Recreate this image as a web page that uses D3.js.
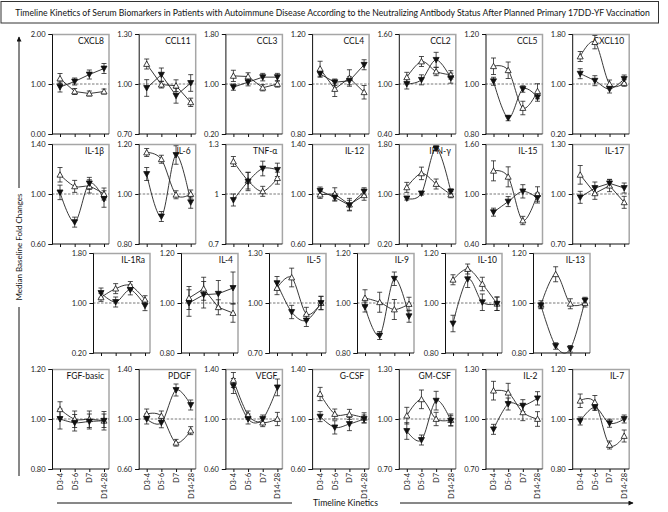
<!DOCTYPE html>
<html><head><meta charset="utf-8">
<script src="https://cdn.jsdelivr.net/npm/d3@7"></script>
<style>body{margin:0;background:#fff} svg{display:block}</style>
</head><body><svg id="c" width="668" height="512"></svg>
<script>
// ---------- DATA ----------
const titleText = "Timeline Kinetics of Serum Biomarkers in Patients with Autoimmune Disease According to the Neutralizing Antibody Status After Planned Primary 17DD-YF Vaccination";
const yAxisTitle = "Median Baseline Fold Changes";
const xAxisTitle = "Timeline Kinetics";
const timepoints = ["D3-4", "D5-6", "D7", "D14-28"];
const biomarkers = ["CXCL8","CCL11","CCL3","CCL4","CCL2","CCL5","CXCL10",
  "IL-1β","IL-6","TNF-α","IL-12","IFN-γ","IL-15","IL-17",
  "IL-1Ra","IL-4","IL-5","IL-9","IL-10","IL-13",
  "FGF-basic","PDGF","VEGF","G-CSF","GM-CSF","IL-2","IL-7"];
const yTickLabels = [
  ["0.00","1.00","2.00"],["0.70","1.00","1.30"],["0.20","1.00","1.80"],["0.80","1.00","1.20"],["0.40","1.00","1.60"],["0.80","1.00","1.20"],["0.20","1.00","1.80"],
  ["0.60","1.00","1.40"],["0.80","1.00","1.20"],["0.7","1","1.3"],["0.60","1.00","1.40"],["0.20","1.00","1.80"],["0.40","1.00","1.60"],["0.70","1.00","1.30"],
  ["0.20","1.00","1.80"],["0.80","1.00","1.20"],["0.70","1.00","1.30"],["0.80","1.00","1.20"],["0.80","1.00","1.20"],["0.80","1.00","1.20"],
  ["0.80","1.00","1.20"],["0.60","1.00","1.40"],["0.60","1.00","1.40"],["0.60","1.00","1.40"],["0.70","1.00","1.30"],["0.70","1.00","1.30"],["0.80","1.00","1.20"]
];
// open triangles (one antibody status group)
const openValues = [
  [1.11,0.85,0.81,0.85],[1.12,0.996,0.99,0.89],[1.13,1.12,0.94,1.0],[1.061,0.98,1.024,0.967],[1.08,1.27,1.15,1.11],[1.071,1.055,0.904,0.971],[1.44,1.67,1.0,1.016],
  [1.154,1.061,1.061,1.0],[1.166,1.139,0.997,1.0],[1.195,1.08,1.016,1.095],[0.995,1.0,0.915,0.99],[1.106,1.33,1.16,0.99],[1.278,1.206,0.682,1.0],[1.115,1.004,1.05,0.95],
  [1.09,1.23,1.28,1.053],[1.02,1.057,0.983,0.96],[1.09,1.153,0.934,1.0],[1.02,1.003,0.974,0.996],[1.093,1.136,1.076,0.997],[0.993,1.115,0.997,1.0],
  [1.039,0.999,0.999,0.993],[1.04,1.024,0.81,0.907],[1.312,1.032,0.971,1.0],[1.2,1.04,1.037,1.01],[1.02,1.118,1.0,0.994],[1.17,1.158,1.04,1.0],[1.073,1.067,0.896,0.932]
];
const openErrors = [
  [0.10,0.06,0.05,0.05],[0.03,0.02,0.035,0.025],[0.09,0.06,0.05,0.05],[0.03,0.03,0.033,0.027],[0.06,0.06,0.05,0.05],[0.033,0.033,0.027,0.03],[0.08,0.107,0.064,0.053],
  [0.058,0.048,0.053,0.048],[0.016,0.016,0.016,0.016],[0.03,0.05,0.03,0.036],[0.03,0.05,0.05,0.04],[0.08,0.1,0.08,0.05],[0.12,0.12,0.05,0.087],[0.056,0.036,0.036,0.036],
  [0.064,0.08,0.064,0.064],[0.046,0.046,0.03,0.037],[0.04,0.056,0.04,0.04],[0.033,0.04,0.04,0.027],[0.02,0.02,0.027,0.027],[0.016,0.03,0.02,0.016],
  [0.03,0.033,0.033,0.037],[0.04,0.04,0.027,0.032],[0.06,0.032,0.032,0.053],[0.053,0.04,0.04,0.04],[0.05,0.056,0.04,0.036],[0.056,0.056,0.05,0.044],[0.027,0.027,0.016,0.024]
];
// filled inverted triangles (other antibody status group)
const filledValues = [
  [0.94,1.05,1.19,1.31],[0.976,1.056,0.93,1.006],[0.95,1.03,1.11,1.11],[1.04,1.007,1.013,1.077],[1.0,1.05,1.29,1.07],[1.011,0.864,0.98,0.947],[1.165,1.053,0.92,1.08],
  [1.013,0.775,1.085,0.96],[1.08,0.91,1.156,0.967],[0.964,1.075,1.153,1.145],[1.026,0.973,0.91,1.02],[0.93,1.01,1.73,1.04],[0.782,0.909,1.032,0.952],[0.98,1.036,1.064,1.036],
  [1.16,1.016,1.21,0.958],[1.0,1.033,1.037,1.06],[1.119,0.946,0.895,1.0],[0.984,0.87,1.097,0.947],[0.918,1.095,1.003,0.997],[0.99,0.828,0.817,1.01],
  [1.0,0.985,0.99,0.993],[1.0,0.97,1.232,1.112],[1.264,1.0,1.0,1.253],[1.019,0.933,0.96,1.0],[0.928,0.874,1.11,0.99],[0.938,1.09,1.08,1.124],[0.992,1.047,0.983,1.0]
];
const filledErrors = [
  [0.10,0.07,0.09,0.10],[0.05,0.04,0.045,0.05],[0.05,0.06,0.06,0.06],[0.013,0.013,0.016,0.02],[0.06,0.06,0.09,0.06],[0.016,0.011,0.013,0.016],[0.08,0.08,0.064,0.064],
  [0.058,0.04,0.048,0.066],[0.026,0.02,0.037,0.024],[0.036,0.055,0.044,0.04],[0.03,0.03,0.04,0.03],[0.027,0.027,0.04,0.04],[0.048,0.06,0.08,0.06],[0.036,0.036,0.024,0.03],
  [0.08,0.08,0.08,0.08],[0.053,0.053,0.053,0.064],[0.04,0.04,0.036,0.04],[0.02,0.016,0.027,0.024],[0.033,0.033,0.033,0.027],[0.011,0.013,0.013,0.013],
  [0.04,0.033,0.03,0.027],[0.04,0.04,0.048,0.04],[0.06,0.04,0.032,0.067],[0.04,0.053,0.053,0.032],[0.05,0.03,0.056,0.03],[0.03,0.036,0.036,0.04],[0.016,0.013,0.016,0.016]
];

// ---------- LAYOUT / STYLE ----------
const rowSizes = [7, 7, 6, 7];
const rowTops = [34, 144, 253, 369];
const panelH = 100, panelW = 57;
const rowLeft = [52, 52, 93, 52];
const rowStep = [86.7, 86.7, 88, 86.7];
const straightLine = new Set(["CXCL8","CCL11","CCL3","CCL4","IL-12","IL-17","IL-4"]);
const FONT = "Lato, 'Open Sans', sans-serif";

const svg = d3.select("#c");
svg.append("rect").attr("width",668).attr("height",512).attr("fill","#fff");

// fit a text to a target width by adjusting its font size
function fitText(sel, target, start) {
  sel.attr("font-size", start);
  const len = sel.node().getComputedTextLength();
  if (len > 0) sel.attr("font-size", (start * target / len).toFixed(2));
  return sel;
}

// title box
svg.append("rect").attr("x",1).attr("y",1.5).attr("width",657.5).attr("height",21.5)
  .attr("fill","none").attr("stroke","#333").attr("stroke-width",1);
fitText(svg.append("text").attr("x",332.5).attr("y",15.5).attr("text-anchor","middle")
  .attr("font-family",FONT).attr("fill","#111").text(titleText), 636, 11);

// arrow marker
const defs = svg.append("defs");
defs.append("marker").attr("id","arr").attr("viewBox","0 0 10 10").attr("refX",9).attr("refY",5)
  .attr("markerWidth",7).attr("markerHeight",5).attr("orient","auto-start-reverse")
  .append("path").attr("d","M0,0 L10,5 L0,10 Z").attr("fill","#111");

// y axis title with arrow
svg.append("line").attr("x1",19).attr("x2",19).attr("y1",188).attr("y2",37)
  .attr("stroke","#111").attr("stroke-width",1).attr("marker-end","url(#arr)");
svg.append("line").attr("x1",19).attr("x2",19).attr("y1",307).attr("y2",476)
  .attr("stroke","#111").attr("stroke-width",1);
fitText(svg.append("text").attr("transform","translate(22,247) rotate(-90)").attr("text-anchor","middle")
  .attr("font-family",FONT).attr("fill","#111").text(yAxisTitle), 107, 9);

// x axis title with arrow
svg.append("line").attr("x1",57).attr("x2",292).attr("y1",503).attr("y2",503)
  .attr("stroke","#111").attr("stroke-width",1);
svg.append("line").attr("x1",400).attr("x2",633).attr("y1",503).attr("y2",503)
  .attr("stroke","#111").attr("stroke-width",1).attr("marker-end","url(#arr)");
fitText(svg.append("text").attr("x",345.5).attr("y",506).attr("text-anchor","middle")
  .attr("font-family",FONT).attr("fill","#111").text(xAxisTitle), 65, 9);

const upTri = (x,y) => `M${x-3},${y+2.4}L${x+3},${y+2.4}L${x},${y-3}Z`;
const downTri = (x,y) => `M${x-3},${y-2.4}L${x+3},${y-2.4}L${x},${y+3}Z`;

let idx = 0;
rowSizes.forEach((n, r) => {
  for (let c = 0; c < n; c++, idx++) {
    const i = idx;
    const name = biomarkers[i];
    const x0 = rowLeft[r] + c * rowStep[r];
    const y0 = rowTops[r];
    const g = svg.append("g").attr("transform",`translate(${x0},${y0})`);
    const tv = yTickLabels[i].map(Number);
    const y = d3.scaleLinear().domain([tv[0], tv[2]]).range([panelH, 0]);
    const x = d3.scalePoint().domain(timepoints).range([8, panelW - 5]);

    // top/right gray frame
    g.append("path").attr("d",`M0,0.5H${panelW}V${panelH}`).attr("fill","none")
      .attr("stroke","#a6a6a6").attr("stroke-width",1.5);
    // baseline dashed
    g.append("line").attr("x1",0).attr("x2",panelW).attr("y1",y(1)).attr("y2",y(1))
      .attr("stroke","#555").attr("stroke-width",0.8).attr("stroke-dasharray","2.5,1.5");

    // y axis
    const ya = g.append("g").call(d3.axisLeft(y).tickValues(tv).tickSize(3.5).tickPadding(3)
      .tickFormat((d,k) => yTickLabels[i][k]));
    ya.select(".domain").attr("stroke","#111").attr("stroke-width",1);
    ya.selectAll("line").attr("stroke","#111");
    ya.selectAll("text").attr("font-family",FONT).attr("font-size",7.5).attr("fill","#222");

    // x axis
    const xa = g.append("g").attr("transform",`translate(0,${panelH})`)
      .call(d3.axisBottom(x).tickSize(3).tickSizeOuter(0).tickFormat(r === 3 ? (d => d) : ""));
    xa.select(".domain").attr("d",`M0,0H${panelW}`).attr("stroke","#111").attr("stroke-width",1);
    xa.selectAll("line").attr("stroke","#111");
    xa.selectAll("text").attr("font-family",FONT).attr("font-size",7.5).attr("fill","#222")
      .attr("text-anchor","end").attr("transform","rotate(-90)").attr("dx","-4").attr("dy","0.32em").attr("y",0);

    // panel label
    g.append("text").attr("x",panelW - 5).attr("y",10).attr("text-anchor","end")
      .attr("font-family",FONT).attr("font-size",8.5).attr("fill","#111").text(name);

    const curve = straightLine.has(name) ? d3.curveLinear : d3.curveCardinal.tension(0);
    const series = [
      {vals: openValues[i], errs: openErrors[i], open: true},
      {vals: filledValues[i], errs: filledErrors[i], open: false}
    ];
    series.forEach(s => {
      const pts = timepoints.map((t,k) => ({x: x(t), v: s.vals[k], e: s.errs[k]}));
      // error bars
      pts.forEach(p => {
        const yt = y(p.v + p.e), yb = y(p.v - p.e);
        g.append("path").attr("d",`M${p.x},${yt}V${yb}M${p.x-2.5},${yt}H${p.x+2.5}M${p.x-2.5},${yb}H${p.x+2.5}`)
          .attr("fill","none").attr("stroke","#222").attr("stroke-width",0.8);
      });
      g.append("path").datum(pts)
        .attr("d", d3.line().x(p => p.x).y(p => y(p.v)).curve(curve))
        .attr("fill","none").attr("stroke","#222").attr("stroke-width",0.9);
    });
    series.forEach(s => {
      timepoints.forEach((t,k) => {
        const px = x(t), py = y(s.vals[k]);
        g.append("path").attr("d", s.open ? upTri(px,py) : downTri(px,py))
          .attr("fill", s.open ? "#fff" : "#111").attr("stroke","#111").attr("stroke-width",0.8);
      });
    });
  }
});
</script></body></html>
